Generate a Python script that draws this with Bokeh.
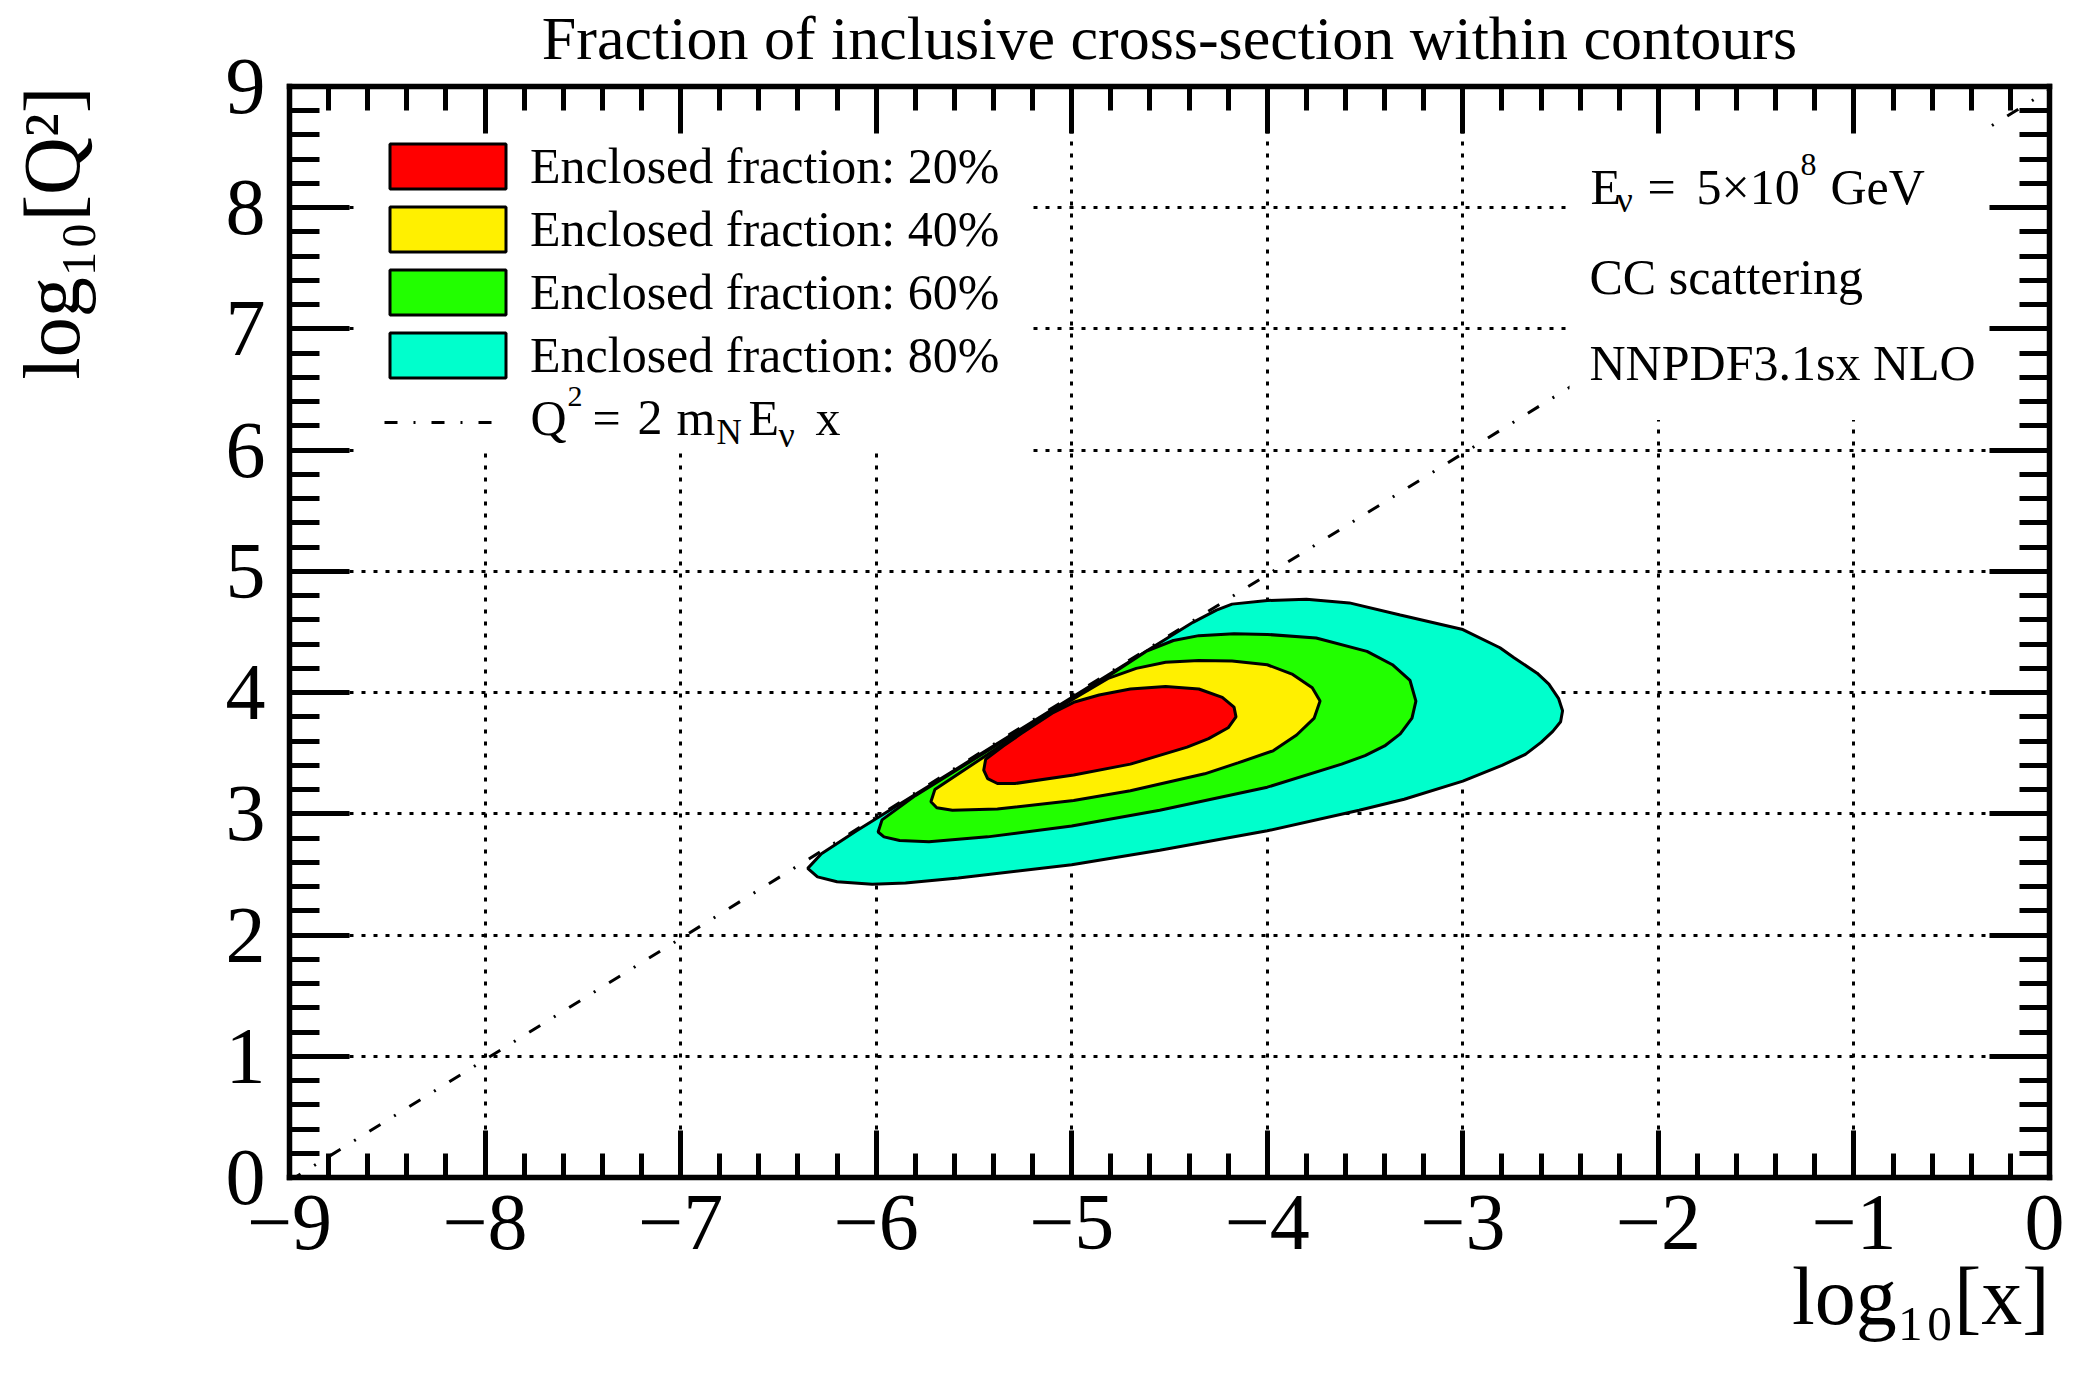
from bokeh.plotting import figure
from bokeh.models import (Range1d, LinearAxis, SingleIntervalTicker, Legend,
                          LegendItem, Label, BoxAnnotation, Title)
from bokeh.embed import file_html
from bokeh.resources import INLINE
import math

# ---------------- data ----------------
fractions = [20, 40, 60, 80]
colors = ["#ff0000", "#fff000", "#22ff00", "#00ffcc"]

# 20 % contour (log10 x, log10 Q^2)
c20_x = [-5.45, -5.44, -5.35, -5.26, -5.10, -4.99, -4.86, -4.70, -4.52, -4.35, -4.23,
         -4.17, -4.16, -4.20, -4.30, -4.41, -4.70, -4.99, -5.29, -5.38, -5.43]
c20_y = [3.36, 3.45, 3.56, 3.66, 3.83, 3.92, 3.98, 4.03, 4.05, 4.03, 3.96,
         3.88, 3.80, 3.71, 3.62, 3.55, 3.41, 3.32, 3.25, 3.25, 3.29]

# 40 % contour
c40_x = [-5.72, -5.70, -5.43, -5.20, -4.99, -4.81, -4.67, -4.52, -4.35, -4.18, -4.00,
         -3.87, -3.77, -3.73, -3.76, -3.85, -3.97, -4.15, -4.32, -4.70, -4.99, -5.38,
         -5.61, -5.69]
c40_y = [3.10, 3.20, 3.49, 3.74, 3.95, 4.12, 4.20, 4.25, 4.265, 4.26, 4.23,
         4.15, 4.04, 3.93, 3.79, 3.65, 3.52, 3.42, 3.33, 3.19, 3.11, 3.04,
         3.03, 3.05]

# 60 % contour
c60_x = [-5.99, -5.97, -5.80, -5.58, -5.30, -4.99, -4.80, -4.62, -4.48, -4.35, -4.17,
         -4.00, -3.75, -3.49, -3.36, -3.27, -3.24, -3.26, -3.32, -3.40, -3.50, -3.62,
         -4.00, -4.55, -5.00, -5.43, -5.73, -5.88, -5.96]
c60_y = [2.85, 2.95, 3.15, 3.37, 3.65, 3.96, 4.15, 4.34, 4.43, 4.47, 4.485,
         4.48, 4.45, 4.34, 4.23, 4.10, 3.93, 3.79, 3.66, 3.56, 3.48, 3.41,
         3.22, 3.03, 2.90, 2.81, 2.77, 2.78, 2.81]

# 80 % contour
c80_x = [-6.35, -6.28, -6.10, -5.90, -5.60, -5.30, -4.99, -4.80, -4.57, -4.38, -4.26,
         -4.18, -4.00, -3.80, -3.58, -3.32, -3.00, -2.81, -2.74, -2.62, -2.56, -2.51,
         -2.49, -2.50, -2.54, -2.60, -2.68, -2.80, -3.00, -3.30, -3.53, -4.00, -4.55,
         -5.00, -5.58, -5.85, -6.02, -6.20, -6.30]
c80_y = [2.55, 2.67, 2.86, 3.06, 3.36, 3.66, 3.97, 4.16, 4.39, 4.58, 4.68,
         4.73, 4.76, 4.77, 4.74, 4.64, 4.52, 4.37, 4.29, 4.16, 4.07, 3.95,
         3.85, 3.76, 3.68, 3.59, 3.49, 3.40, 3.27, 3.12, 3.03, 2.86, 2.70,
         2.58, 2.47, 2.43, 2.42, 2.44, 2.48]

contours_x = [c20_x, c40_x, c60_x, c80_x]
contours_y = [c20_y, c40_y, c60_y, c80_y]

# kinematic line Q^2 = 2 m_N E_nu x
M_N = 0.938          # GeV
E_NU = 5e8           # GeV

x_ticks = [-9, -8, -7, -6, -5, -4, -3, -2, -1, 0]
x_tick_labels = ["\u22129", "\u22128", "\u22127", "\u22126", "\u22125",
                 "\u22124", "\u22123", "\u22122", "\u22121", "0"]
y_ticks = [0, 1, 2, 3, 4, 5, 6, 7, 8, 9]
y_tick_labels = ["0", "1", "2", "3", "4", "5", "6", "7", "8", "9"]

TITLE = "Fraction of inclusive cross-section within contours"
X_TITLE = "log\u2081\u2080[x]"
Y_TITLE = "log\u2081\u2080[Q\u00b2]"

XMIN, XMAX = -9.0, 0.0
YMIN, YMAX = 0.0, 9.0

# ---------------- layout ----------------
FONT = "Liberation Serif"
W, H = 2064, 1369
FL, FR, FT, FB = 289, 2049, 84, 1177   # frame edges on the canvas

p = figure(width=W, height=H, x_range=Range1d(XMIN, XMAX), y_range=Range1d(YMIN, YMAX),
           output_backend="svg", toolbar_location=None, title=None,
           min_border_left=FL, min_border_right=W - FR,
           min_border_top=FT, min_border_bottom=H - FB)
p.outline_line_color = None
p.background_fill_color = "white"
p.border_fill_color = "white"


def X(px):
    return XMIN + (px - FL) * (XMAX - XMIN) / (FR - FL)


def Y(py):
    return YMIN + (FB - py) * (YMAX - YMIN) / (FB - FT)


def style_axis(ax, major_len, minor_len, show_labels, overrides=None, standoff=10):
    ax.ticker = SingleIntervalTicker(interval=1, num_minor_ticks=5)
    ax.axis_line_width = 5.5
    ax.axis_line_color = "black"
    ax.axis_line_cap = "square"
    ax.major_tick_in = major_len
    ax.major_tick_out = 0
    ax.minor_tick_in = minor_len
    ax.minor_tick_out = 0
    ax.major_tick_line_width = 5
    ax.minor_tick_line_width = 5
    ax.major_tick_line_color = "black"
    ax.minor_tick_line_color = "black"
    ax.axis_label = None
    if show_labels:
        ax.major_label_text_font = FONT
        ax.major_label_text_font_size = "80px"
        ax.major_label_text_color = "black"
        ax.major_label_standoff = standoff
        if overrides:
            ax.major_label_overrides = overrides
    else:
        ax.major_label_text_font_size = "0px"
        ax.major_label_standoff = 0


style_axis(p.xaxis[0], 47, 24, True,
           {float(t): s for t, s in zip(x_ticks, x_tick_labels)}, standoff=18)
style_axis(p.yaxis[0], 60, 30, True,
           {float(t): s for t, s in zip(y_ticks, y_tick_labels)}, standoff=24)
# spacer: pushes the rotated y title outwards
p.yaxis[0].axis_label = " "
p.yaxis[0].axis_label_text_font_size = "1px"
p.yaxis[0].axis_label_standoff = 123

top_ax = LinearAxis()
right_ax = LinearAxis()
style_axis(top_ax, 47, 24, False)
style_axis(right_ax, 60, 30, False)
# main title carried by the top axis
top_ax.axis_label = TITLE
top_ax.axis_label_text_font = FONT
top_ax.axis_label_text_font_size = "62px"
top_ax.axis_label_text_font_style = "normal"
top_ax.axis_label_text_color = "black"
top_ax.axis_label_standoff = 15
p.add_layout(top_ax, "above")
p.add_layout(right_ax, "right")


def make_title(text, size, align, standoff, offset=0):
    t = Title(text=text, text_font=FONT, text_font_size=f"{size}px",
              text_font_style="normal", text_color="black", align=align, offset=offset)
    try:
        t.standoff = standoff
    except Exception:
        t.standoff = 0
    return t


p.add_layout(make_title(X_TITLE, 82, "right", -6), "below")
p.add_layout(make_title(Y_TITLE, 80, "right", 0), "left")

for g in (p.xgrid[0], p.ygrid[0]):
    g.ticker = SingleIntervalTicker(interval=1)
    g.grid_line_color = "black"
    g.grid_line_width = 3
    g.grid_line_dash = "4 8"

# ---------------- contours ----------------
renderers = {}
for frac, col, cx, cy in reversed(list(zip(fractions, colors, contours_x, contours_y))):
    renderers[frac] = p.patch(cx, cy, fill_color=col, fill_alpha=1.0,
                              line_color="black", line_width=3)

line_x = [XMIN, XMAX]
line_y = [math.log10(2 * M_N * E_NU) + v for v in line_x]
r_line = p.line(line_x, line_y, line_color="black", line_width=3, line_dash="13 16 2 16")

# white boxes behind the legend and the annotation text (hide grid and line)
for l, r, b in [(357, 1032, 451), (1569, 1988, 418)]:
    p.add_layout(BoxAnnotation(left=X(l), right=X(r), bottom=Y(b), top=YMAX,
                               fill_color="white", fill_alpha=1.0, line_color=None,
                               level="glyph"))


# ---------------- legend ----------------
def style_legend(lg, glyph_width):
    lg.label_text_font = FONT
    lg.label_text_font_size = "50px"
    lg.label_text_color = "black"
    lg.glyph_width = glyph_width
    lg.glyph_height = 56
    lg.label_height = 56
    lg.spacing = 5
    lg.padding = 6
    lg.margin = 0
    lg.label_standoff = 10
    lg.border_line_color = None
    lg.background_fill_alpha = 0.0


legend = Legend(items=[LegendItem(label=f"Enclosed fraction: {f}%", renderers=[renderers[f]])
                       for f in fractions], location=(86, 793))
style_legend(legend, 145)
p.add_layout(legend)

legend_line = Legend(items=[LegendItem(label=" ", renderers=[r_line])], location=(95, 727))
style_legend(legend_line, 114)
p.add_layout(legend_line)


def txt(text, px, base_py, size):
    # base_py is the baseline position; anchor the text by its middle
    p.add_layout(Label(x=X(px), y=Y(base_py - 0.34 * size), text=text, text_font=FONT,
                       text_font_size=f"{size}px", text_align="left",
                       text_baseline="middle", text_color="black"))


# legend label for the kinematic line: Q^2 = 2 m_N E_nu x
for t, px, py, sz in [("Q", 530, 433, 50), ("2", 567, 405, 30), ("=", 592, 433, 50),
                      ("2", 637, 433, 50), ("m", 676, 433, 50), ("N", 716, 443, 35),
                      ("E", 748, 433, 50), ("\u03bd", 778, 445, 36), ("x", 815, 433, 50)]:
    txt(t, px, py, sz)

# right-hand annotation
txt("E", 1590, 202, 50)
txt("\u03bd", 1616, 210, 36)
txt("=", 1647, 202, 50)
txt("5\u00d710", 1696, 202, 50)
txt("8", 1800, 173, 32)
txt("GeV", 1830, 202, 50)
txt("CC scattering", 1589, 292, 50)
txt("NNPDF3.1sx NLO", 1589, 378, 50)

open("out.html", "w").write(file_html(p, INLINE))
